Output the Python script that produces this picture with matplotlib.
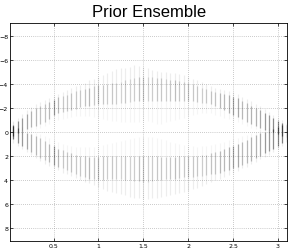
import numpy as np
import matplotlib
matplotlib.use("Agg")
import matplotlib.pyplot as plt

# ensemble columns (x step 0.05)
x_cols = np.round(np.arange(0.05, 3.101, 0.05), 2)

# upper band: outer halo top, core top, core bottom, inner halo bottom
up_halo = [-0.9, -1.2, -1.5, -1.8, -2.05, -2.3, -2.5, -2.7, -2.85, -3.0,
           -3.2, -3.35, -3.5, -3.65, -3.8, -3.95, -4.1, -4.3, -4.45, -4.6,
           -4.75, -4.9, -5.1, -5.25, -5.3, -5.35, -5.45, -5.55, -5.5, -5.45,
           -5.3, -5.2, -5.1, -5.0, -5.0, -4.95, -4.9, -4.85, -4.75, -4.6,
           -4.45, -4.3, -4.15, -4.0, -3.85, -3.7, -3.6, -3.5, -3.4, -3.3,
           -3.15, -2.95, -2.75, -2.55, -2.35, -2.15, -1.9, -1.7, -1.45, -1.2,
           -1.0, -0.8]
up_top = [-0.6, -0.9, -1.2, -1.5, -1.75, -2.0, -2.2, -2.35, -2.5, -2.7,
          -2.9, -3.0, -3.1, -3.25, -3.4, -3.5, -3.6, -3.7, -3.8, -3.9,
          -3.95, -4.0, -4.05, -4.1, -4.2, -4.3, -4.4, -4.5, -4.6, -4.6,
          -4.6, -4.55, -4.5, -4.5, -4.4, -4.35, -4.3, -4.25, -4.2, -4.1,
          -4.0, -3.85, -3.7, -3.55, -3.45, -3.35, -3.25, -3.15, -3.05, -2.95,
          -2.8, -2.6, -2.4, -2.2, -2.0, -1.8, -1.6, -1.4, -1.15, -0.95,
          -0.75, -0.55]
up_bot = [0.3, 0.1, -0.1, -0.25, -0.4, -0.5, -0.65, -0.85, -1.1, -1.4,
          -1.55, -1.65, -1.75, -1.85, -1.95, -2.05, -2.15, -2.2, -2.25, -2.3,
          -2.3, -2.3, -2.3, -2.35, -2.4, -2.45, -2.5, -2.55, -2.6, -2.6,
          -2.6, -2.6, -2.6, -2.6, -2.6, -2.6, -2.6, -2.6, -2.6, -2.6,
          -2.55, -2.5, -2.45, -2.4, -2.3, -2.2, -2.0, -1.8, -1.6, -1.4,
          -1.25, -1.05, -0.85, -0.65, -0.5, -0.3, -0.2, -0.1, 0.0, 0.15,
          0.3, 0.4]
up_inner = [0.5, 0.3, 0.15, 0.0, -0.15, -0.25, -0.35, -0.5, -0.7, -0.9,
            -1.0, -1.1, -1.2, -1.25, -1.3, -1.35, -1.35, -1.3, -1.25, -1.2,
            -1.1, -1.0, -0.9, -0.9, -0.8, -0.8, -0.8, -0.8, -0.85, -0.9,
            -0.9, -0.8, -0.7, -0.7, -0.8, -0.9, -1.0, -1.1, -1.2, -1.3,
            -1.4, -1.5, -1.6, -1.6, -1.55, -1.45, -1.35, -1.2, -1.05, -0.9,
            -0.8, -0.65, -0.5, -0.35, -0.25, -0.1, 0.0, 0.1, 0.2, 0.35,
            0.5, 0.6]

# lower band: inner halo top, core top, core bottom, outer halo bottom
lo_inner = [-0.8, -0.6, -0.4, -0.2, -0.1, 0.05, 0.2, 0.35, 0.5, 0.7,
            0.85, 1.0, 1.1, 1.2, 1.25, 1.3, 1.3, 1.3, 1.25, 1.2,
            1.1, 1.0, 0.9, 0.8, 0.75, 0.7, 0.6, 0.5, 0.45, 0.4,
            0.4, 0.45, 0.5, 0.6, 0.7, 0.8, 0.9, 1.0, 1.1, 1.15,
            1.2, 1.25, 1.2, 1.15, 1.1, 1.0, 0.9, 0.8, 0.7, 0.6,
            0.5, 0.35, 0.25, 0.1, 0.0, -0.15, -0.25, -0.35, -0.5, -0.6,
            -0.75, -0.85]
lo_top = [-0.5, -0.3, -0.05, 0.1, 0.2, 0.35, 0.5, 0.75, 1.0, 1.2,
          1.4, 1.55, 1.7, 1.8, 1.9, 2.0, 2.05, 2.1, 2.1, 2.1,
          2.05, 2.05, 2.0, 2.0, 2.0, 2.0, 2.0, 2.0, 2.0, 2.0,
          2.0, 2.05, 2.05, 2.1, 2.1, 2.1, 2.1, 2.05, 2.05, 2.05,
          2.0, 2.0, 1.95, 1.9, 1.8, 1.7, 1.6, 1.45, 1.3, 1.15,
          1.0, 0.85, 0.65, 0.45, 0.25, 0.1, 0.0, -0.1, -0.25, -0.4,
          -0.55, -0.65]
lo_bot = [0.6, 0.9, 1.15, 1.4, 1.65, 1.9, 2.15, 2.35, 2.55, 2.75,
          2.9, 3.05, 3.2, 3.35, 3.5, 3.65, 3.8, 3.9, 3.95, 4.0,
          4.0, 3.95, 3.9, 3.9, 3.95, 4.0, 4.05, 4.1, 4.1, 4.15,
          4.15, 4.1, 4.05, 4.0, 3.95, 3.9, 3.9, 3.85, 3.8, 3.8,
          3.75, 3.7, 3.65, 3.6, 3.55, 3.5, 3.4, 3.3, 3.15, 3.0,
          2.9, 2.75, 2.6, 2.4, 2.2, 2.0, 1.8, 1.6, 1.4, 1.15,
          0.95, 0.8]
lo_halo = [0.9, 1.2, 1.45, 1.7, 1.95, 2.2, 2.45, 2.65, 2.85, 3.05,
           3.2, 3.4, 3.55, 3.7, 3.85, 4.0, 4.15, 4.3, 4.45, 4.6,
           4.75, 4.9, 5.0, 5.1, 5.2, 5.3, 5.4, 5.5, 5.55, 5.6,
           5.6, 5.55, 5.5, 5.4, 5.35, 5.3, 5.2, 5.1, 5.0, 4.9,
           4.8, 4.65, 4.5, 4.35, 4.2, 4.05, 3.9, 3.75, 3.6, 3.4,
           3.25, 3.05, 2.9, 2.7, 2.5, 2.3, 2.1, 1.9, 1.65, 1.4,
           1.2, 1.0]

# how dark each core column looks
core_shade = [0.55, 0.45, 0.4, 0.35, 0.3, 0.28, 0.24, 0.24, 0.28, 0.38,
              0.28, 0.22, 0.22, 0.24, 0.22, 0.22, 0.24, 0.28, 0.22, 0.26,
              0.22, 0.2, 0.22, 0.2, 0.18, 0.22, 0.18, 0.2, 0.24, 0.22,
              0.18, 0.2, 0.22, 0.22, 0.2, 0.22, 0.26, 0.22, 0.22, 0.22,
              0.22, 0.22, 0.2, 0.22, 0.24, 0.24, 0.28, 0.28, 0.3, 0.34,
              0.34, 0.28, 0.28, 0.3, 0.3, 0.34, 0.4, 0.4, 0.45, 0.45,
              0.5, 0.55]

x_ticks = [0.5, 1, 1.5, 2, 2.5, 3]
y_ticks = [-8, -6, -4, -2, 0, 2, 4, 6, 8]

fig = plt.figure(figsize=(2.91, 2.51), dpi=100)
ax = fig.add_axes([0.035, 0.037, 0.952, 0.867])

core_cols = [(0, 0, 0, a) for a in core_shade]
lw = 0.9
ax.vlines(x_cols, up_halo, up_top, colors=(0, 0, 0, 0.07), linewidth=lw)
ax.vlines(x_cols, up_top, up_bot, colors=core_cols, linewidth=lw)
ax.vlines(x_cols, up_bot, up_inner, colors=(0, 0, 0, 0.04), linewidth=lw)
ax.vlines(x_cols, lo_inner, lo_top, colors=(0, 0, 0, 0.04), linewidth=lw)
ax.vlines(x_cols, lo_top, lo_bot, colors=core_cols, linewidth=lw)
ax.vlines(x_cols, lo_bot, lo_halo, colors=(0, 0, 0, 0.07), linewidth=lw)

ax.set_xlim(0.017, 3.103)
ax.set_ylim(9.07, -9.07)
ax.set_xticks(x_ticks)
ax.set_xticklabels(["0.5", "1", "1.5", "2", "2.5", "3"])
ax.set_yticks(y_ticks)
ax.grid(True, linestyle=(0, (1, 2)), color="#999999", linewidth=0.5)
ax.tick_params(direction="in", length=2.5, width=0.5, top=True, right=True,
               labelsize=4.5, pad=1.5)
for s in ax.spines.values():
    s.set_linewidth(0.6)
ax.set_title("Prior Ensemble", fontsize=12, family="Liberation Sans", pad=5)

fig.savefig("out.png", dpi=100)
